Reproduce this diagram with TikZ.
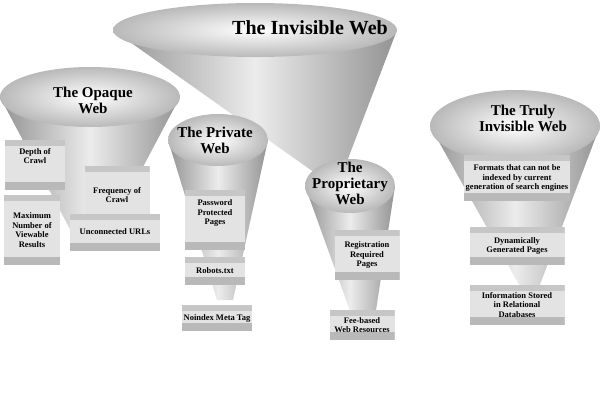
\documentclass[tikz,border=0pt]{standalone}
\usepackage{fontspec}
\setmainfont{Liberation Serif}
\tikzset{
  panel/.style={fill=gray!22, font=\bfseries\fontsize{8.5}{9.5}\selectfont, align=center,
    inner sep=2pt, path picture={
      \fill[gray!45] (path picture bounding box.north west) rectangle ([yshift=-6pt]path picture bounding box.north east);
      \fill[gray!55] (path picture bounding box.south west) rectangle ([yshift=8pt]path picture bounding box.south east);}},
  title/.style={font=\bfseries\fontsize{15}{16}\selectfont, align=center}
}
% funnel: centre x, centre y, radius x, radius y, spout x, spout y, spout half width
\newcommand{\funnel}[7]{%
  \shade[left color=gray!85, right color=gray!85, middle color=gray!15]
    (#1-#3,#2) -- (#5-#7,#6) -- (#5+#7,#6) -- (#1+#3,#2) -- cycle;
  \shade[inner color=white, outer color=gray!55] (#1,#2) ellipse [x radius=#3, y radius=#4];
}
\begin{document}
\begin{tikzpicture}[x=1pt,y=-1pt]
  \useasboundingbox (0,0) rectangle (600,400);
  \funnel{255}{30}{142}{27}{335}{185}{3}
  \funnel{90}{97}{90}{30}{90}{250}{9}
  \funnel{218}{140}{50}{26}{225}{300}{8}
  \funnel{350}{186}{45}{27}{365}{330}{8}
  \funnel{515}{126}{85}{36}{530}{290}{8}

  \node[title, font=\bfseries\fontsize{20}{22}\selectfont] (tiw) at (310,28) {The Invisible Web};
  \node[title] (tow) at (93,100) {The Opaque\\Web};
  \node[title] (tpw) at (215,140) {The Private\\Web};
  \node[title] (tprw) at (350,183) {The\\Proprietary\\Web};
  \node[title] (ttw) at (523,118) {The Truly\\Invisible Web};

  \node[panel, minimum width=60pt, minimum height=50pt] (depth) at (35,165) {Depth of\\Crawl\\[8pt]};
  \node[panel, minimum width=65pt, minimum height=58pt] (freq) at (117,195) {Frequency of\\Crawl};
  \node[panel, minimum width=56pt, minimum height=70pt] (maxnum) at (32,230) {Maximum\\Number of\\Viewable\\Results};
  \node[panel, minimum width=90pt, minimum height=37pt] (urls) at (115,232) {Unconnected URLs};

  \node[panel, minimum width=60pt, minimum height=60pt] (pass) at (215,220) {Password\\Protected\\Pages\\[6pt]};
  \node[panel, minimum width=60pt, minimum height=28pt] (robots) at (215,271) {Robots.txt};
  \node[panel, minimum width=65pt, minimum height=26pt] (noindex) at (217,318) {Noindex Meta Tag};

  \node[panel, minimum width=65pt, minimum height=50pt] (reg) at (367,255) {Registration\\Required\\Pages};
  \node[panel, minimum width=65pt, minimum height=30pt] (fee) at (362,325) {Fee-based\\Web Resources};

  \node[panel, minimum width=105pt, minimum height=46pt] (formats) at (517,178) {Formats that can not be\\indexed by current\\generation of search engines};
  \node[panel, minimum width=95pt, minimum height=38pt] (dyn) at (517,246) {Dynamically\\Generated Pages};
  \node[panel, minimum width=95pt, minimum height=40pt] (info) at (517,305) {Information Stored\\in Relational\\Databases};
\end{tikzpicture}
\end{document}
